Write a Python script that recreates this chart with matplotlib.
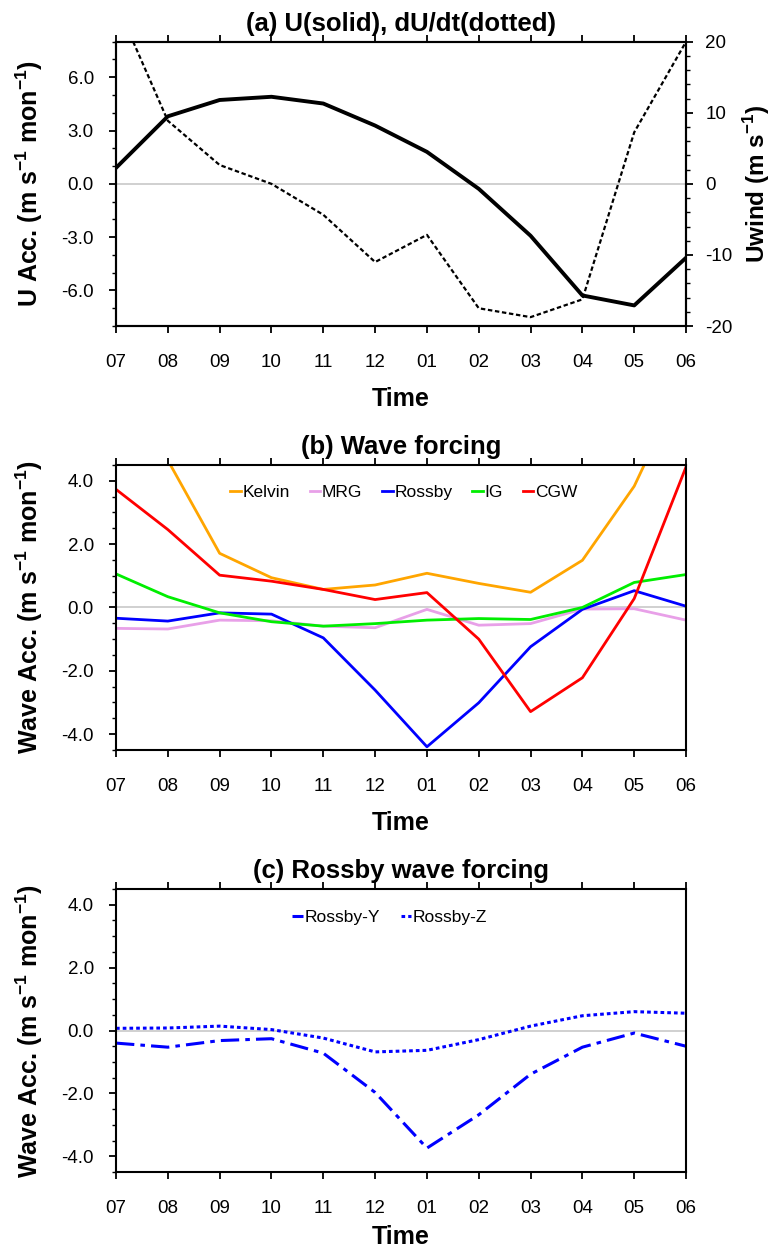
import numpy as np
import matplotlib
matplotlib.use('Agg')
from matplotlib import pyplot as plt
from matplotlib.ticker import MultipleLocator

plt.rcParams['font.family'] = ['Liberation Sans', 'DejaVu Sans']
plt.rcParams['axes.unicode_minus'] = False
plt.rcParams['mathtext.fontset'] = 'custom'
plt.rcParams['mathtext.rm'] = 'Liberation Sans'
plt.rcParams['mathtext.bf'] = 'Liberation Sans:bold'

months = ['07', '08', '09', '10', '11', '12', '01', '02', '03', '04', '05', '06']

# (a) zonal wind (right axis) and its tendency (left axis)
uwind = [2.25, 9.5, 11.8, 12.25, 11.3, 8.2, 4.5, -0.7, -7.3, -15.7, -17.1, -10.4]
dudt = [10.2, 3.55, 1.06, 0.0, -1.74, -4.4, -2.87, -7.0, -7.5, -6.5, 2.9, 8.0]

# (b) wave forcing
kelvin = [7.5, 4.65, 1.71, 0.94, 0.57, 0.71, 1.08, 0.76, 0.48, 1.49, 3.83, 7.3]
mrg = [-0.66, -0.68, -0.40, -0.42, -0.59, -0.64, -0.06, -0.56, -0.51, -0.05, -0.04, -0.40]
rossby = [-0.34, -0.43, -0.17, -0.21, -0.96, -2.61, -4.40, -3.01, -1.24, -0.06, 0.53, 0.04]
ig = [1.06, 0.34, -0.17, -0.45, -0.59, -0.51, -0.40, -0.35, -0.38, 0.0, 0.79, 1.04]
cgw = [3.73, 2.46, 1.02, 0.83, 0.57, 0.25, 0.47, -1.0, -3.29, -2.22, 0.28, 4.44]

# (c) Rossby wave forcing components
rossby_y = [-0.40, -0.53, -0.32, -0.26, -0.72, -1.97, -3.74, -2.68, -1.39, -0.53, -0.08, -0.50]
rossby_z = [0.07, 0.08, 0.14, 0.03, -0.24, -0.68, -0.63, -0.29, 0.14, 0.47, 0.60, 0.55]

x = np.arange(len(months))
unit_lab = r'(m s$^{\mathbf{-1}}$ mon$^{\mathbf{-1}}$)'

fig = plt.figure(figsize=(7.75, 12.52), dpi=100)


def style_axes(ax, title, ylabel, xpad=12):
    for sp in ax.spines.values():
        sp.set_linewidth(1.5)
    ax.set_xlim(0, len(months) - 1)
    ax.set_xticks(x)
    ax.set_xticklabels(months)
    ax.tick_params(axis='x', which='major', direction='out', length=5, width=1.3,
                   top=True, labelsize=13.5, pad=15)
    ax.tick_params(axis='y', which='major', direction='out', length=5, width=1.3,
                   labelsize=13.5, pad=11)
    ax.tick_params(axis='y', which='minor', direction='out', length=3, width=1.0)
    ax.set_title(title, fontsize=18.5, fontweight='bold', pad=8)
    ax.set_xlabel('Time', fontsize=18, fontweight='bold', labelpad=xpad)
    ax.set_ylabel(ylabel, fontsize=18, fontweight='bold', labelpad=12)
    ax.axhline(0, color='#c8c8c8', lw=1.2, zorder=0)


# panel (a)
ax1 = fig.add_axes([0.1497, 0.7396, 0.7355, 0.2271])
ax1.plot(x, dudt, color='k', lw=1.6, ls=(0, (2, 1.2)))
ax1.set_ylim(-8, 8)
ax1.yaxis.set_major_locator(MultipleLocator(3))
ax1.yaxis.set_minor_locator(MultipleLocator(1))
ax1.yaxis.set_major_formatter('{x:.1f}')
style_axes(ax1, '(a) U(solid), dU/dt(dotted)', 'U Acc. ' + unit_lab)

ax2 = ax1.twinx()
ax2.plot(x, uwind, color='k', lw=2.8)
ax2.set_ylim(-20, 20)
ax2.yaxis.set_major_locator(MultipleLocator(10))
ax2.yaxis.set_minor_locator(MultipleLocator(2))
ax2.tick_params(axis='y', which='major', direction='out', length=5, width=1.3,
                labelsize=13.5, pad=9)
ax2.tick_params(axis='y', which='minor', direction='out', length=3, width=1.0)
for sp in ax2.spines.values():
    sp.set_linewidth(1.5)
ax2.set_ylabel(r'Uwind (m s$^{\mathbf{-1}}$)', fontsize=17.5, fontweight='bold',
               labelpad=6)

# panel (b)
axb = fig.add_axes([0.1497, 0.4010, 0.7355, 0.2276])
axb.plot(x, kelvin, color='#ffa500', lw=2.0, label='Kelvin')
axb.plot(x, mrg, color='#e8a0e8', lw=2.0, label='MRG')
axb.plot(x, rossby, color='#0000ff', lw=2.0, label='Rossby')
axb.plot(x, ig, color='#00ee00', lw=2.0, label='IG')
axb.plot(x, cgw, color='#ff0000', lw=2.0, label='CGW')
axb.set_ylim(-4.5, 4.5)
axb.yaxis.set_major_locator(MultipleLocator(2))
axb.yaxis.set_minor_locator(MultipleLocator(0.5))
axb.yaxis.set_major_formatter('{x:.1f}')
style_axes(axb, '(b) Wave forcing', 'Wave Acc. ' + unit_lab)
axb.legend(loc='upper center', bbox_to_anchor=(0.505, 0.985), ncol=5, frameon=False,
           fontsize=12.5, handlelength=0.6, handletextpad=0.1, columnspacing=1.15)

# panel (c)
axc = fig.add_axes([0.1497, 0.0639, 0.7355, 0.2260])
axc.plot(x, rossby_y, color='#0000ff', lw=2.2, ls=(0, (6, 2, 1.5, 2)), label='Rossby-Y')
axc.plot(x, rossby_z, color='#0000ff', lw=2.2, ls=(0, (1.2, 1.0)), label='Rossby-Z')
axc.set_ylim(-4.5, 4.5)
axc.yaxis.set_major_locator(MultipleLocator(2))
axc.yaxis.set_minor_locator(MultipleLocator(0.5))
axc.yaxis.set_major_formatter('{x:.1f}')
style_axes(axc, '(c) Rossby wave forcing', 'Wave Acc. ' + unit_lab, xpad=6)
axc.legend(loc='upper center', bbox_to_anchor=(0.48, 0.98), ncol=2, frameon=False,
           fontsize=12.5, handlelength=0.6, handletextpad=0.1, columnspacing=1.2)

fig.savefig('out.png', dpi=100)
